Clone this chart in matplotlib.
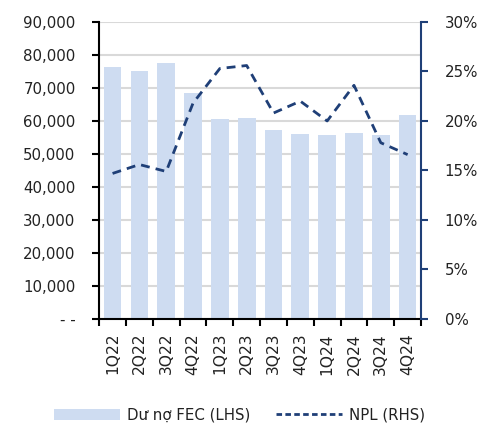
import numpy as np
import matplotlib.pyplot as plt
from matplotlib.ticker import FuncFormatter
from matplotlib.lines import Line2D
from matplotlib.patches import Patch

plt.rcParams['font.family'] = ['DejaVu Sans']

# Data
quarters = ["1Q22", "2Q22", "3Q22", "4Q22", "1Q23", "2Q23", "3Q23", "4Q23",
            "1Q24", "2Q24", "3Q24", "4Q24"]
fec_loans = [76500, 75000, 77700, 68500, 60600, 60900, 57300, 56100,
             55800, 56400, 55800, 61900]
npl = [14.7, 15.6, 14.9, 21.8, 25.3, 25.6, 20.8, 22.0, 20.0, 23.6, 17.8, 16.6]

bar_color = "#CEDCF1"
line_color = "#1F3F77"
text_color = "#222222"
fs = 10.8

fig = plt.figure(figsize=(4.79, 4.28), dpi=100)
ax = fig.add_axes([0.207, 0.2547, 0.672, 0.694])
ax2 = ax.twinx()

x = np.arange(len(quarters))
ax.bar(x, fec_loans, width=0.66, color=bar_color, zorder=2)
ax2.plot(x, npl, color=line_color, linestyle=(0, (3.2, 2.2)), linewidth=2.0, zorder=3)

# Left axis
ax.set_ylim(0, 90000)
ax.set_yticks(np.arange(0, 90001, 10000))
ax.yaxis.set_major_formatter(FuncFormatter(lambda v, p: "- -" if v == 0 else f"{int(v):,}"))
ax.grid(axis="y", color="#D9D9D9", linewidth=1.5, zorder=0)
ax.set_axisbelow(True)
ax.set_xlim(-0.5, len(quarters) - 0.5)

# X ticks: labels at centers, tick marks at boundaries
ax.set_xticks(x)
ax.set_xticklabels(quarters, rotation=90)
ax.set_xticks(np.arange(-0.5, len(quarters), 1), minor=True)
ax.tick_params(axis="x", which="major", length=0, pad=10, labelsize=fs + 0.4, labelcolor=text_color)
ax.tick_params(axis="x", which="minor", length=5, width=1.5, color="black")
ax.tick_params(axis="y", length=5, width=1.5, color="black", labelsize=fs, labelcolor=text_color, pad=12)

for s in ["top", "right"]:
    ax.spines[s].set_visible(False)
ax.spines["left"].set_linewidth(1.5)
ax.spines["bottom"].set_linewidth(1.5)

# Right axis
ax2.set_ylim(0, 30)
ax2.set_yticks(np.arange(0, 31, 5))
ax2.yaxis.set_major_formatter(FuncFormatter(lambda v, p: f"{int(v)}%"))
ax2.tick_params(axis="y", length=5, width=1.5, color=line_color, labelsize=fs, labelcolor=text_color, pad=12)
for s in ["top", "left", "bottom"]:
    ax2.spines[s].set_visible(False)
ax2.spines["right"].set_color(line_color)
ax2.spines["right"].set_linewidth(1.5)

# Legend
handles = [Patch(facecolor=bar_color, edgecolor="none", label="Dư nợ FEC (LHS)"),
           Line2D([0], [0], color=line_color, linestyle=(0, (2, 1.2)), linewidth=2, label="NPL (RHS)")]
fig.legend(handles=handles, loc="center", bbox_to_anchor=(0.5, 0.03), ncol=2, frameon=False,
           fontsize=fs, handlelength=4.4, handleheight=0.75, handletextpad=0.5,
           columnspacing=1.7, labelcolor=text_color)

fig.savefig("out.png", dpi=100)
